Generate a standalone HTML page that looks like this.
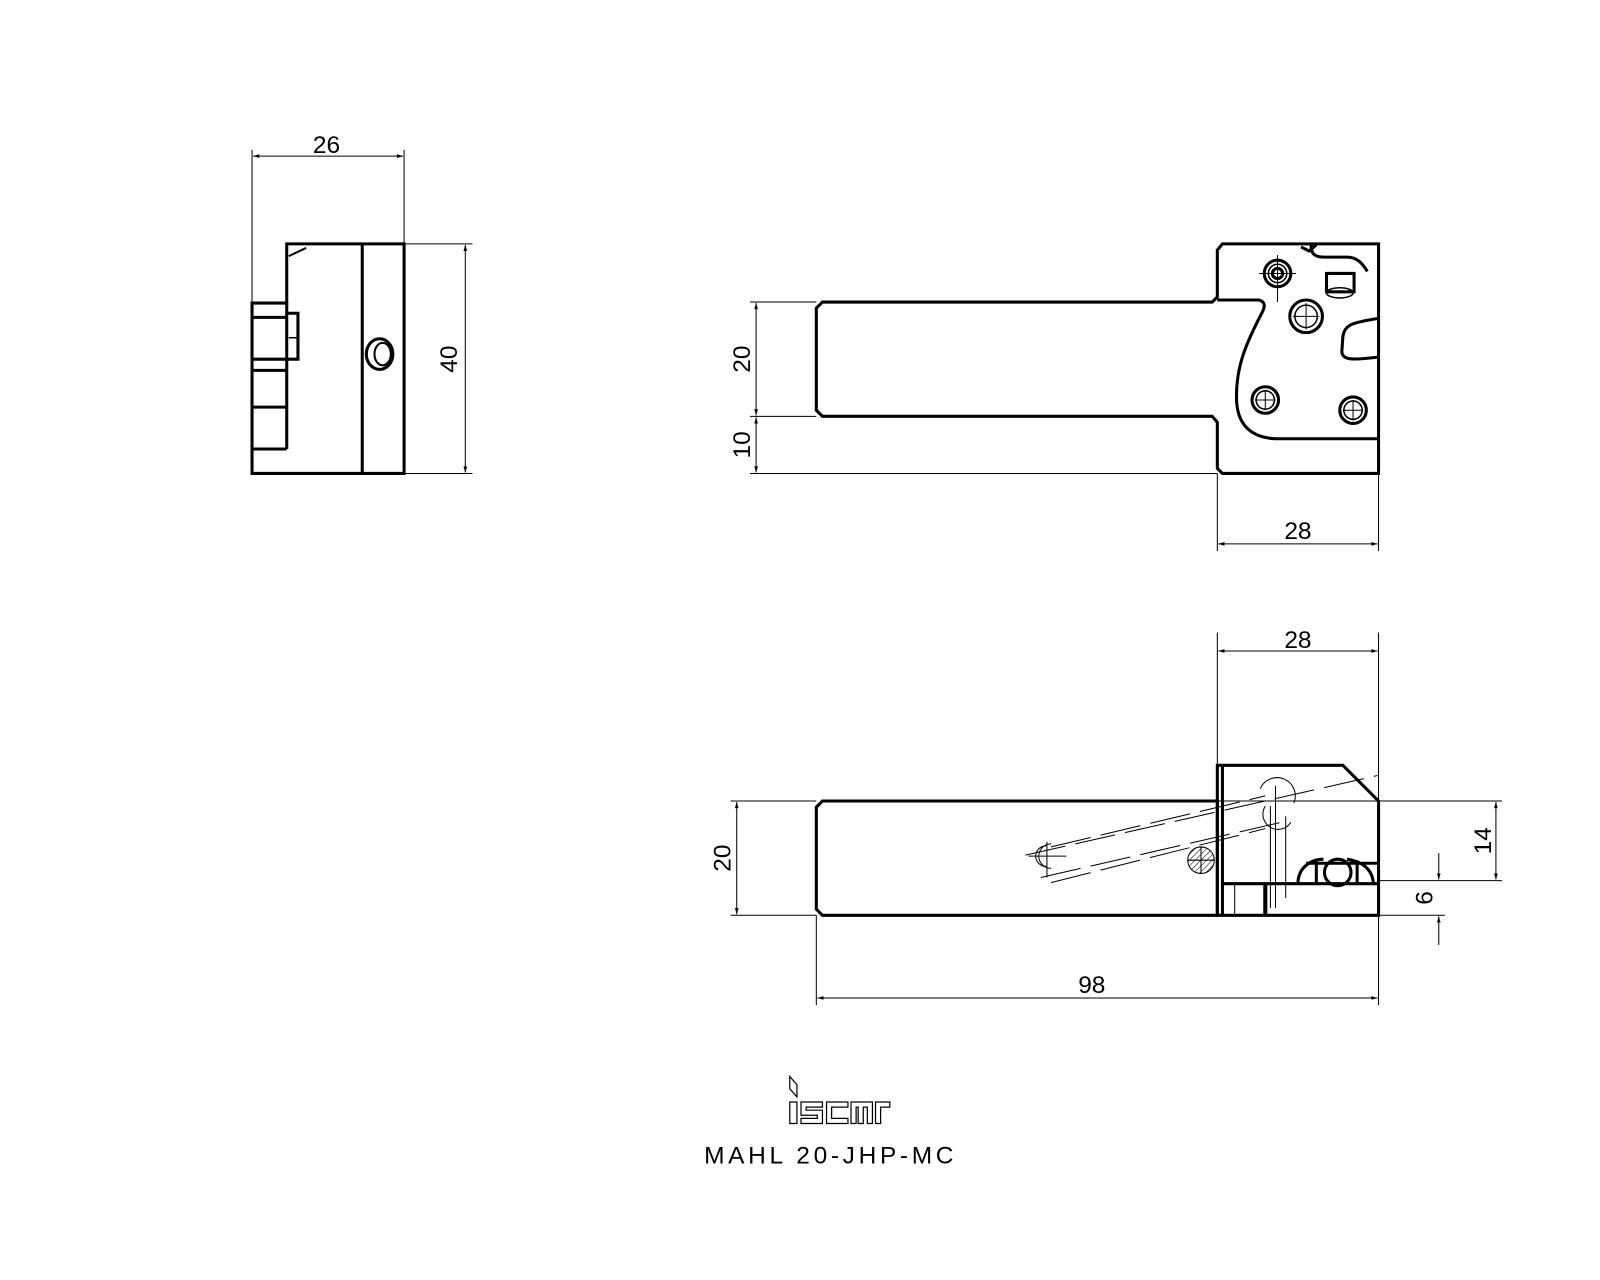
<!DOCTYPE html>
<html><head><meta charset="utf-8"><style>
html,body{margin:0;padding:0;background:#fff;}
svg{display:block;}
text{font-family:"Liberation Sans",sans-serif;font-size:24px;fill:#000;}
</style></head><body>
<svg width="1600" height="1280" viewBox="0 0 1600 1280" xmlns="http://www.w3.org/2000/svg">
<defs>
<marker id="a" viewBox="0 0 10 10" refX="10" refY="5" markerWidth="8" markerHeight="6" orient="auto-start-reverse"><path d="M0,2 L10,5 L0,8 z" fill="#000"/></marker>
<pattern id="h" width="4" height="4" patternUnits="userSpaceOnUse" patternTransform="rotate(45)"><line x1="0" y1="0" x2="0" y2="4" stroke="#000" stroke-width="1"/></pattern>
</defs>
<g transform="scale(1.0204)">
<g fill="none" stroke="#000">
<!-- LEFT VIEW -->
<g stroke-width="3">
<path d="M281,239 H396 V464 H247 V297 H281 Z"/>
<line x1="355" y1="239" x2="355" y2="464"/>
<line x1="281" y1="297" x2="281" y2="440"/>
<line x1="247" y1="440" x2="281" y2="440"/>
<line x1="247" y1="311" x2="281" y2="311"/>
<line x1="247" y1="352" x2="281" y2="352"/>
<line x1="247" y1="363" x2="281" y2="363"/>
<line x1="247" y1="399" x2="281" y2="399"/>
<path d="M281,307 H292 V352 H281"/>
<ellipse cx="372" cy="347" rx="13" ry="15"/>
</g>
<path d="M283,251 L300,243" stroke-width="2"/>
<line x1="283" y1="331" x2="292" y2="331" stroke-width="1.5"/>
<ellipse cx="375" cy="347" rx="8" ry="11" stroke-width="2"/>
<g stroke-width="1">
<line x1="247" y1="147" x2="247" y2="297"/>
<line x1="396" y1="147" x2="396" y2="239"/>
<line x1="248" y1="153" x2="395" y2="153" marker-start="url(#a)" marker-end="url(#a)"/>
<line x1="396" y1="239" x2="463" y2="239"/>
<line x1="396" y1="464" x2="463" y2="464"/>
<line x1="456" y1="240" x2="456" y2="463" marker-start="url(#a)" marker-end="url(#a)"/>
</g>

<!-- TOP VIEW -->
<g stroke-width="3">
<path d="M806,296 H1188 L1193,291 V245 L1198,239 H1351 V464 H1198 L1193,459 V414 L1188,408 H806 L800,402 V302 Z"/>
<path d="M1193,294 H1234 C1240,296 1240,300 1237,306 C1222,335 1210,360 1212,395 C1214,420 1230,429 1250,430 H1351"/>
<circle cx="1252" cy="268" r="13"/>
<circle cx="1252" cy="268" r="5"/>
<circle cx="1280" cy="310" r="16"/>
<circle cx="1240" cy="392" r="13"/>
<circle cx="1326" cy="402" r="13"/>
<path d="M1285,239 C1284,250 1290,252 1298,252 H1320 C1330,252 1335,258 1340,266"/>
<path d="M1300,268 H1327 V286 H1300 Z"/>
<path d="M1351,312 C1325,316 1318,318 1316,330 L1315,345 C1316,353 1325,353 1351,350"/>
<path d="M1275,242 L1283,246 L1290,240"/>
</g>
<g stroke-width="1.5">
<circle cx="1252" cy="268" r="9"/>
<circle cx="1280" cy="310" r="11"/>
<circle cx="1240" cy="392" r="9"/>
<circle cx="1326" cy="402" r="9"/>
<ellipse cx="1313" cy="287" rx="13" ry="5"/>
</g>
<g stroke-width="1">
<line x1="1234" y1="268" x2="1270" y2="268"/><line x1="1252" y1="250" x2="1252" y2="296"/>
<line x1="1267" y1="310" x2="1293" y2="310"/><line x1="1280" y1="297" x2="1280" y2="323"/>
<line x1="1230" y1="392" x2="1250" y2="392"/><line x1="1240" y1="382" x2="1240" y2="402"/>
<line x1="1316" y1="402" x2="1336" y2="402"/><line x1="1326" y1="392" x2="1326" y2="412"/>
<line x1="735" y1="296" x2="800" y2="296"/>
<line x1="735" y1="408" x2="800" y2="408"/>
<line x1="735" y1="464" x2="1193" y2="464"/>
<line x1="741" y1="297" x2="741" y2="407" marker-start="url(#a)" marker-end="url(#a)"/>
<line x1="741" y1="409" x2="741" y2="463" marker-start="url(#a)" marker-end="url(#a)"/>
<line x1="1193" y1="464" x2="1193" y2="540"/>
<line x1="1351" y1="464" x2="1351" y2="540"/>
<line x1="1194" y1="533" x2="1350" y2="533" marker-start="url(#a)" marker-end="url(#a)"/>
</g>

<!-- BOTTOM VIEW -->
<g stroke-width="3">
<path d="M806,785 H1193 V897 H806 L800,891 V791 Z"/>
<path d="M1193,750 H1316 L1351,785 V897 H1193 Z"/>
<line x1="1198" y1="750" x2="1198" y2="897"/>
<line x1="1198" y1="866" x2="1351" y2="866"/>
<line x1="1240" y1="866" x2="1240" y2="897" stroke-width="4"/>
<path d="M1272,866 C1272,850 1285,842 1297,842 M1320,842 C1335,844 1345,852 1346,866 M1280,846 H1351 M1290,846 V866 M1330,846 V866"/>
<circle cx="1311" cy="855" r="13"/>
</g>
<circle cx="1177" cy="843" r="13" stroke-width="1" fill="url(#h)"/>
<line x1="1164" y1="843" x2="1190" y2="843" stroke-width="1"/>
<line x1="1177" y1="830" x2="1177" y2="856" stroke-width="1"/>
<g stroke-width="1" stroke-dasharray="40,10">
<line x1="1005" y1="838" x2="1350" y2="760"/>
<line x1="1030" y1="830" x2="1240" y2="780"/>
<line x1="1030" y1="865" x2="1240" y2="812"/>
<line x1="1020" y1="860" x2="1255" y2="806"/>
</g>
<g stroke-width="1">
<path d="M1030,827 A12,12 0 0 0 1030,851"/>
<path d="M1025,829 A10,10 0 0 0 1025,849"/>
<line x1="1008" y1="839" x2="1045" y2="839"/><line x1="1026" y1="825" x2="1026" y2="860"/>
<path d="M1235,773 A13,13 0 0 1 1268,787"/>
<path d="M1240,790 A12,12 0 0 0 1265,806"/>
<line x1="1250" y1="770" x2="1250" y2="890"/>
<line x1="1245" y1="790" x2="1245" y2="890"/>
<line x1="1260" y1="800" x2="1260" y2="880"/>
<line x1="1210" y1="866" x2="1210" y2="897"/>
<line x1="1193" y1="620" x2="1193" y2="750"/>
<line x1="1351" y1="620" x2="1351" y2="785"/>
<line x1="1194" y1="638" x2="1350" y2="638" marker-start="url(#a)" marker-end="url(#a)"/>
<line x1="716" y1="785" x2="800" y2="785"/>
<line x1="716" y1="897" x2="800" y2="897"/>
<line x1="722" y1="786" x2="722" y2="896" marker-start="url(#a)" marker-end="url(#a)"/>
<line x1="800" y1="897" x2="800" y2="985"/>
<line x1="1351" y1="897" x2="1351" y2="985"/>
<line x1="801" y1="978" x2="1350" y2="978" marker-start="url(#a)" marker-end="url(#a)"/>
<line x1="1193" y1="785" x2="1472" y2="785"/>
<line x1="1351" y1="863" x2="1472" y2="863"/>
<line x1="1466" y1="786" x2="1466" y2="862" marker-start="url(#a)" marker-end="url(#a)"/>
<line x1="1351" y1="897" x2="1416" y2="897"/>
<line x1="1410" y1="836" x2="1410" y2="862" marker-end="url(#a)"/>
<line x1="1410" y1="926" x2="1410" y2="898" marker-end="url(#a)"/>
</g>

<!-- LOGO -->
<g stroke-width="1.2">
<path d="M774,1055 L781,1063 V1075 L774,1067 Z"/>
<path d="M774,1080 H781 V1101 H774 Z"/>
<path d="M785,1080 H806 V1085 H790 V1088 H806 V1101 H785 V1096 H801 V1093 H785 Z"/>
<path d="M810,1080 H831 V1085 H815 V1096 H831 V1101 H810 Z"/>
<path d="M834,1080 H855 V1101 H850 V1085 H846 V1101 H841 V1085 H839 V1101 H834 Z"/>
<path d="M858,1080 H872 V1085 H863 V1101 H858 Z"/>
</g>
</g>
<text x="320" y="150" text-anchor="middle">26</text>
<text transform="translate(448,352) rotate(-90)" text-anchor="middle">40</text>
<text transform="translate(735,352) rotate(-90)" text-anchor="middle">20</text>
<text transform="translate(735,436) rotate(-90)" text-anchor="middle">10</text>
<text x="1272" y="528" text-anchor="middle">28</text>
<text x="1272" y="635" text-anchor="middle">28</text>
<text transform="translate(716,841) rotate(-90)" text-anchor="middle">20</text>
<text x="1070" y="973" text-anchor="middle">98</text>
<text transform="translate(1461,824) rotate(-90)" text-anchor="middle">14</text>
<text transform="translate(1404,880) rotate(-90)" text-anchor="middle">6</text>
<text x="690" y="1140" style="letter-spacing:3.6px">MAHL 20-JHP-MC</text>
</g>
</svg>
</body></html>
